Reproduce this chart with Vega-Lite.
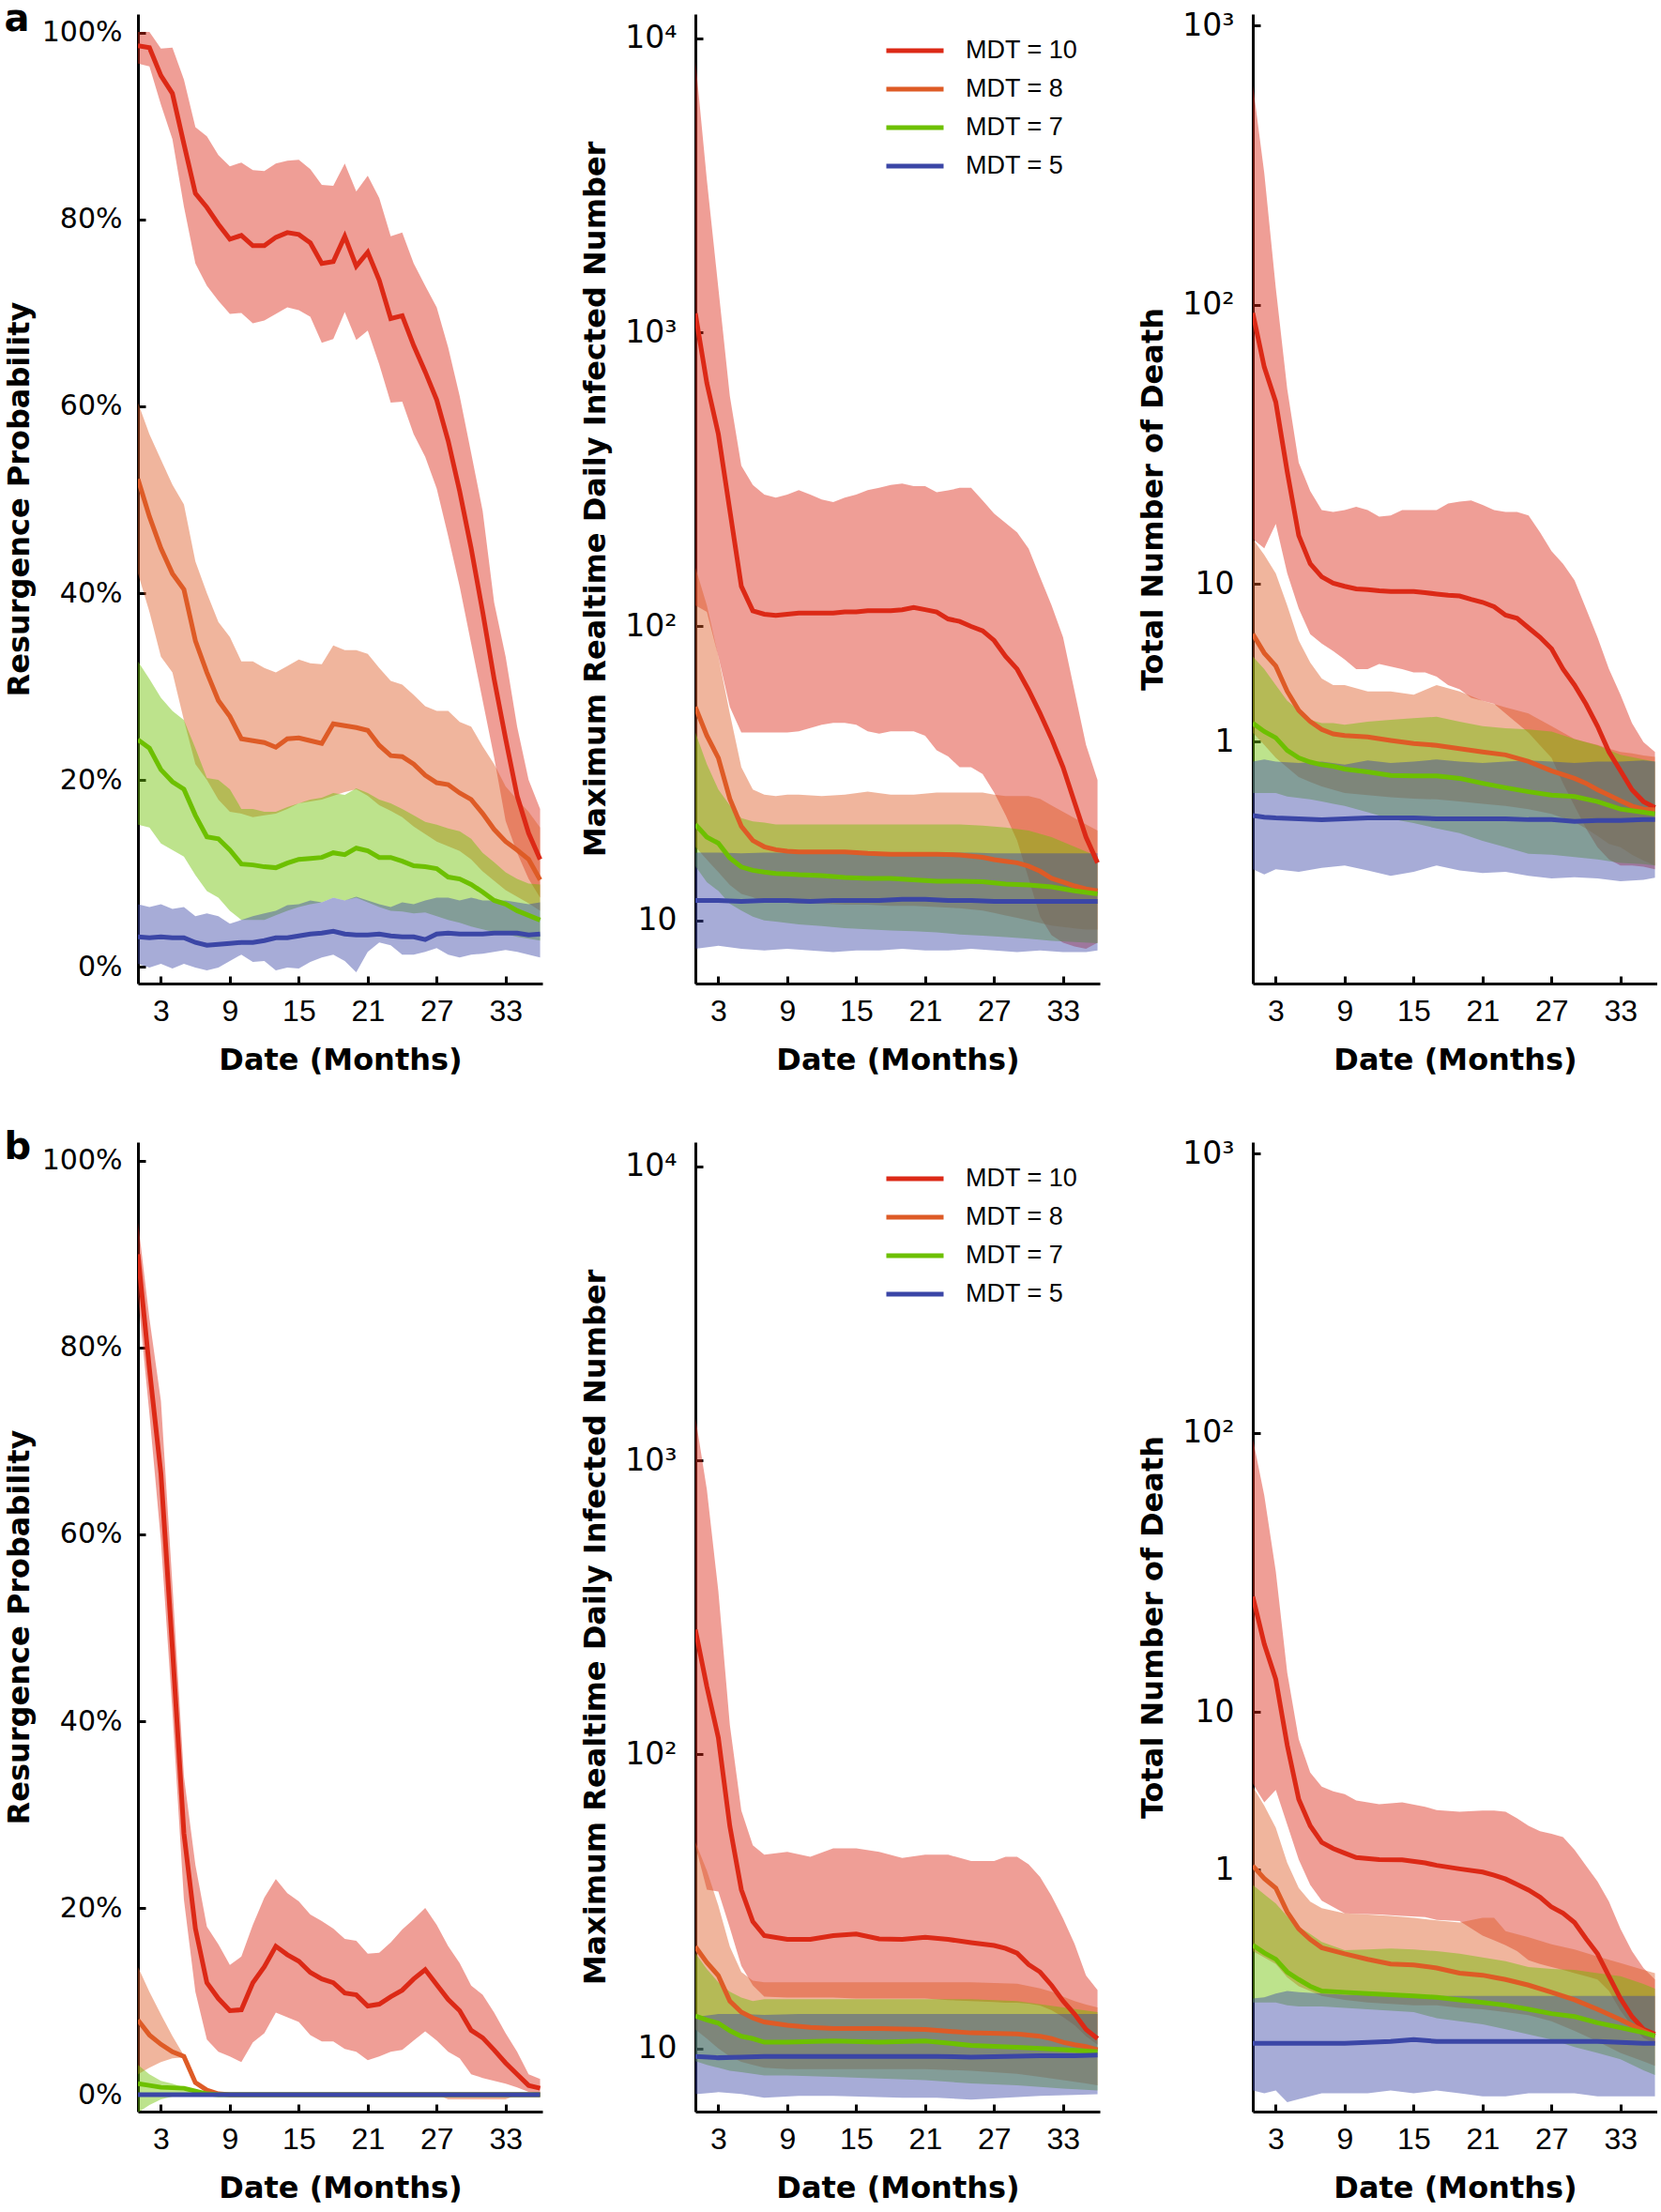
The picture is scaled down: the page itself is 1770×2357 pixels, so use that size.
{
"$schema": "https://vega.github.io/schema/vega-lite/v6.json",
"background": "white",
"padding": {"left": 4, "top": 0, "right": 0, "bottom": 0},
"config": {
  "view": {"stroke": null},
  "axis": {"domainColor": "black", "domainWidth": 3, "tickColor": "black", "tickWidth": 3, "tickSize": -8, "grid": false, "labelColor": "black", "titleColor": "black", "titleFont": "DejaVu Sans", "titleFontWeight": "bold", "titleFontSize": 32, "labelFlush": false, "labelOverlap": false},
  "axisX": {"labelFont": "Liberation Sans", "labelFontSize": 32, "labelPadding": 22.6, "minExtent": 47, "maxExtent": 47, "titlePadding": 19},
  "axisY": {"labelFont": "DejaVu Sans", "labelFontSize": 30},
  "title": {"anchor": "start", "frame": "bounds", "font": "DejaVu Sans", "fontWeight": "bold", "fontSize": 40, "baseline": "alphabetic", "offset": 0, "dy": 29.5, "color": "black"}
},
"datasets": {"d": [
{"p":"a1","s":"10","m":1,"y":98.6,"lo":96.7,"hi":100.1},{"p":"a1","s":"10","m":2,"y":98.4,"lo":96.4,"hi":100.1},{"p":"a1","s":"10","m":3,"y":95.4,"lo":92.3,"hi":98.3},{"p":"a1","s":"10","m":4,"y":93.5,"lo":88.6,"hi":98.4},{"p":"a1","s":"10","m":5,"y":88.1,"lo":81.4,"hi":95.0},{"p":"a1","s":"10","m":6,"y":82.8,"lo":75.3,"hi":89.9},{"p":"a1","s":"10","m":7,"y":81.3,"lo":72.9,"hi":88.9},{"p":"a1","s":"10","m":8,"y":79.5,"lo":71.3,"hi":86.9},{"p":"a1","s":"10","m":9,"y":77.9,"lo":69.9,"hi":85.7},{"p":"a1","s":"10","m":10,"y":78.3,"lo":70.0,"hi":86.1},{"p":"a1","s":"10","m":11,"y":77.2,"lo":68.9,"hi":85.3},{"p":"a1","s":"10","m":12,"y":77.2,"lo":69.2,"hi":85.2},{"p":"a1","s":"10","m":13,"y":78.1,"lo":69.9,"hi":86.0},{"p":"a1","s":"10","m":14,"y":78.6,"lo":70.6,"hi":86.3},{"p":"a1","s":"10","m":15,"y":78.4,"lo":70.3,"hi":86.4},{"p":"a1","s":"10","m":16,"y":77.5,"lo":69.6,"hi":85.4},{"p":"a1","s":"10","m":17,"y":75.3,"lo":66.8,"hi":83.7},{"p":"a1","s":"10","m":18,"y":75.5,"lo":67.2,"hi":83.6},{"p":"a1","s":"10","m":19,"y":78.2,"lo":70.1,"hi":86.0},{"p":"a1","s":"10","m":20,"y":75.0,"lo":67.1,"hi":83.0},{"p":"a1","s":"10","m":21,"y":76.5,"lo":68.1,"hi":84.7},{"p":"a1","s":"10","m":22,"y":73.5,"lo":64.5,"hi":82.3},{"p":"a1","s":"10","m":23,"y":69.4,"lo":60.4,"hi":78.2},{"p":"a1","s":"10","m":24,"y":69.7,"lo":60.5,"hi":78.6},{"p":"a1","s":"10","m":25,"y":66.5,"lo":57.0,"hi":75.3},{"p":"a1","s":"10","m":26,"y":63.7,"lo":54.6,"hi":72.9},{"p":"a1","s":"10","m":27,"y":60.7,"lo":51.2,"hi":70.6},{"p":"a1","s":"10","m":28,"y":56.3,"lo":46.1,"hi":66.3},{"p":"a1","s":"10","m":29,"y":50.9,"lo":40.7,"hi":61.1},{"p":"a1","s":"10","m":30,"y":44.8,"lo":34.6,"hi":55.0},{"p":"a1","s":"10","m":31,"y":38.0,"lo":28.5,"hi":48.8},{"p":"a1","s":"10","m":32,"y":30.8,"lo":22.4,"hi":39.0},{"p":"a1","s":"10","m":33,"y":24.4,"lo":15.6,"hi":33.2},{"p":"a1","s":"10","m":34,"y":18.3,"lo":12.2,"hi":25.7},{"p":"a1","s":"10","m":35,"y":14.3,"lo":9.4,"hi":20.0},{"p":"a1","s":"10","m":36,"y":11.5,"lo":7.4,"hi":16.9},
{"p":"a1","s":"8","m":1,"y":52.2,"lo":42.1,"hi":60.4},{"p":"a1","s":"8","m":2,"y":48.2,"lo":38.0,"hi":57.0},{"p":"a1","s":"8","m":3,"y":44.8,"lo":33.2,"hi":54.3},{"p":"a1","s":"8","m":4,"y":42.1,"lo":31.5,"hi":51.6},{"p":"a1","s":"8","m":5,"y":40.4,"lo":26.4,"hi":49.5},{"p":"a1","s":"8","m":6,"y":34.9,"lo":21.7,"hi":43.4},{"p":"a1","s":"8","m":7,"y":31.5,"lo":20.0,"hi":40.0},{"p":"a1","s":"8","m":8,"y":28.5,"lo":17.9,"hi":36.9},{"p":"a1","s":"8","m":9,"y":26.8,"lo":16.6,"hi":35.3},{"p":"a1","s":"8","m":10,"y":24.4,"lo":16.4,"hi":32.7},{"p":"a1","s":"8","m":11,"y":24.2,"lo":16.0,"hi":32.7},{"p":"a1","s":"8","m":12,"y":24.0,"lo":16.2,"hi":32.0},{"p":"a1","s":"8","m":13,"y":23.5,"lo":16.4,"hi":31.5},{"p":"a1","s":"8","m":14,"y":24.4,"lo":16.9,"hi":32.2},{"p":"a1","s":"8","m":15,"y":24.5,"lo":17.5,"hi":32.9},{"p":"a1","s":"8","m":16,"y":24.2,"lo":17.7,"hi":32.5},{"p":"a1","s":"8","m":17,"y":23.9,"lo":17.9,"hi":32.4},{"p":"a1","s":"8","m":18,"y":26.0,"lo":18.3,"hi":34.4},{"p":"a1","s":"8","m":19,"y":25.8,"lo":18.7,"hi":33.9},{"p":"a1","s":"8","m":20,"y":25.6,"lo":19.0,"hi":33.9},{"p":"a1","s":"8","m":21,"y":25.3,"lo":18.3,"hi":33.5},{"p":"a1","s":"8","m":22,"y":23.7,"lo":17.3,"hi":32.0},{"p":"a1","s":"8","m":23,"y":22.6,"lo":16.7,"hi":30.6},{"p":"a1","s":"8","m":24,"y":22.5,"lo":16.0,"hi":30.2},{"p":"a1","s":"8","m":25,"y":21.7,"lo":15.0,"hi":29.1},{"p":"a1","s":"8","m":26,"y":20.5,"lo":14.2,"hi":27.9},{"p":"a1","s":"8","m":27,"y":19.7,"lo":13.4,"hi":27.4},{"p":"a1","s":"8","m":28,"y":19.5,"lo":12.9,"hi":27.4},{"p":"a1","s":"8","m":29,"y":18.6,"lo":12.4,"hi":26.2},{"p":"a1","s":"8","m":30,"y":17.9,"lo":11.5,"hi":25.7},{"p":"a1","s":"8","m":31,"y":16.4,"lo":10.2,"hi":23.6},{"p":"a1","s":"8","m":32,"y":14.7,"lo":9.2,"hi":21.7},{"p":"a1","s":"8","m":33,"y":13.4,"lo":8.2,"hi":19.3},{"p":"a1","s":"8","m":34,"y":12.5,"lo":7.5,"hi":17.9},{"p":"a1","s":"8","m":35,"y":11.5,"lo":6.8,"hi":16.6},{"p":"a1","s":"8","m":36,"y":9.3,"lo":6.0,"hi":14.9},
{"p":"a1","s":"7","m":1,"y":24.3,"lo":15.2,"hi":32.7},{"p":"a1","s":"7","m":2,"y":23.4,"lo":14.9,"hi":30.8},{"p":"a1","s":"7","m":3,"y":21.1,"lo":13.2,"hi":28.8},{"p":"a1","s":"7","m":4,"y":19.8,"lo":12.5,"hi":27.4},{"p":"a1","s":"7","m":5,"y":19.0,"lo":11.8,"hi":26.4},{"p":"a1","s":"7","m":6,"y":16.2,"lo":9.8,"hi":23.4},{"p":"a1","s":"7","m":7,"y":13.9,"lo":8.1,"hi":20.2},{"p":"a1","s":"7","m":8,"y":13.7,"lo":7.4,"hi":20.0},{"p":"a1","s":"7","m":9,"y":12.5,"lo":6.0,"hi":19.0},{"p":"a1","s":"7","m":10,"y":11.0,"lo":5.0,"hi":16.9},{"p":"a1","s":"7","m":11,"y":10.9,"lo":5.0,"hi":16.9},{"p":"a1","s":"7","m":12,"y":10.7,"lo":5.0,"hi":16.6},{"p":"a1","s":"7","m":13,"y":10.6,"lo":5.5,"hi":16.6},{"p":"a1","s":"7","m":14,"y":11.1,"lo":6.0,"hi":17.1},{"p":"a1","s":"7","m":15,"y":11.5,"lo":6.4,"hi":17.5},{"p":"a1","s":"7","m":16,"y":11.6,"lo":6.7,"hi":17.9},{"p":"a1","s":"7","m":17,"y":11.7,"lo":6.9,"hi":18.1},{"p":"a1","s":"7","m":18,"y":12.2,"lo":7.4,"hi":18.6},{"p":"a1","s":"7","m":19,"y":12.0,"lo":7.1,"hi":18.4},{"p":"a1","s":"7","m":20,"y":12.7,"lo":7.4,"hi":19.1},{"p":"a1","s":"7","m":21,"y":12.4,"lo":6.9,"hi":18.6},{"p":"a1","s":"7","m":22,"y":11.7,"lo":6.4,"hi":17.9},{"p":"a1","s":"7","m":23,"y":11.7,"lo":6.0,"hi":17.5},{"p":"a1","s":"7","m":24,"y":11.3,"lo":5.9,"hi":16.9},{"p":"a1","s":"7","m":25,"y":10.8,"lo":5.7,"hi":16.2},{"p":"a1","s":"7","m":26,"y":10.7,"lo":5.8,"hi":15.5},{"p":"a1","s":"7","m":27,"y":10.5,"lo":5.4,"hi":15.2},{"p":"a1","s":"7","m":28,"y":9.6,"lo":5.0,"hi":14.8},{"p":"a1","s":"7","m":29,"y":9.4,"lo":4.7,"hi":14.5},{"p":"a1","s":"7","m":30,"y":8.8,"lo":4.3,"hi":13.7},{"p":"a1","s":"7","m":31,"y":8.0,"lo":4.0,"hi":12.2},{"p":"a1","s":"7","m":32,"y":7.1,"lo":3.7,"hi":11.2},{"p":"a1","s":"7","m":33,"y":6.7,"lo":3.5,"hi":10.1},{"p":"a1","s":"7","m":34,"y":6.0,"lo":3.2,"hi":9.4},{"p":"a1","s":"7","m":35,"y":5.5,"lo":3.0,"hi":8.9},{"p":"a1","s":"7","m":36,"y":5.0,"lo":2.8,"hi":8.8},
{"p":"a1","s":"5","m":1,"y":3.2,"lo":0.3,"hi":6.7},{"p":"a1","s":"5","m":2,"y":3.1,"lo":-0.1,"hi":6.4},{"p":"a1","s":"5","m":3,"y":3.2,"lo":0.3,"hi":6.7},{"p":"a1","s":"5","m":4,"y":3.1,"lo":-0.2,"hi":6.2},{"p":"a1","s":"5","m":5,"y":3.1,"lo":0.3,"hi":6.4},{"p":"a1","s":"5","m":6,"y":2.6,"lo":-0.1,"hi":5.4},{"p":"a1","s":"5","m":7,"y":2.3,"lo":-0.4,"hi":5.7},{"p":"a1","s":"5","m":8,"y":2.4,"lo":-0.1,"hi":5.4},{"p":"a1","s":"5","m":9,"y":2.5,"lo":0.6,"hi":4.6},{"p":"a1","s":"5","m":10,"y":2.6,"lo":1.3,"hi":5.0},{"p":"a1","s":"5","m":11,"y":2.6,"lo":0.5,"hi":5.4},{"p":"a1","s":"5","m":12,"y":2.8,"lo":0.6,"hi":5.7},{"p":"a1","s":"5","m":13,"y":3.1,"lo":-0.4,"hi":6.0},{"p":"a1","s":"5","m":14,"y":3.1,"lo":-0.1,"hi":6.6},{"p":"a1","s":"5","m":15,"y":3.3,"lo":-0.2,"hi":6.7},{"p":"a1","s":"5","m":16,"y":3.5,"lo":0.5,"hi":7.1},{"p":"a1","s":"5","m":17,"y":3.6,"lo":1.0,"hi":6.9},{"p":"a1","s":"5","m":18,"y":3.8,"lo":1.3,"hi":7.4},{"p":"a1","s":"5","m":19,"y":3.5,"lo":0.6,"hi":7.1},{"p":"a1","s":"5","m":20,"y":3.4,"lo":-0.6,"hi":7.5},{"p":"a1","s":"5","m":21,"y":3.4,"lo":1.6,"hi":7.1},{"p":"a1","s":"5","m":22,"y":3.5,"lo":2.6,"hi":6.7},{"p":"a1","s":"5","m":23,"y":3.3,"lo":2.3,"hi":6.4},{"p":"a1","s":"5","m":24,"y":3.2,"lo":1.3,"hi":6.9},{"p":"a1","s":"5","m":25,"y":3.2,"lo":1.3,"hi":6.7},{"p":"a1","s":"5","m":26,"y":2.9,"lo":1.6,"hi":7.1},{"p":"a1","s":"5","m":27,"y":3.5,"lo":2.0,"hi":7.4},{"p":"a1","s":"5","m":28,"y":3.6,"lo":1.3,"hi":7.4},{"p":"a1","s":"5","m":29,"y":3.5,"lo":1.0,"hi":7.1},{"p":"a1","s":"5","m":30,"y":3.5,"lo":1.3,"hi":7.4},{"p":"a1","s":"5","m":31,"y":3.5,"lo":1.4,"hi":7.1},{"p":"a1","s":"5","m":32,"y":3.6,"lo":1.6,"hi":7.1},{"p":"a1","s":"5","m":33,"y":3.6,"lo":1.8,"hi":7.1},{"p":"a1","s":"5","m":34,"y":3.6,"lo":1.6,"hi":6.9},{"p":"a1","s":"5","m":35,"y":3.4,"lo":1.3,"hi":6.7},{"p":"a1","s":"5","m":36,"y":3.5,"lo":1.0,"hi":6.9},
{"p":"a2","s":"10","m":1,"y":1161,"lo":118,"hi":8490},{"p":"a2","s":"10","m":2,"y":672,"lo":112,"hi":3300},{"p":"a2","s":"10","m":3,"y":451,"lo":79,"hi":1416},{"p":"a2","s":"10","m":4,"y":248,"lo":53.2,"hi":608},{"p":"a2","s":"10","m":5,"y":137,"lo":43.6,"hi":352},{"p":"a2","s":"10","m":6,"y":113,"lo":43.6,"hi":303},{"p":"a2","s":"10","m":7,"y":110,"lo":43.6,"hi":281},{"p":"a2","s":"10","m":8,"y":109,"lo":43.6,"hi":274},{"p":"a2","s":"10","m":9,"y":110,"lo":43.6,"hi":281},{"p":"a2","s":"10","m":10,"y":111,"lo":44,"hi":291},{"p":"a2","s":"10","m":11,"y":111,"lo":45.1,"hi":281},{"p":"a2","s":"10","m":12,"y":111,"lo":46.3,"hi":270},{"p":"a2","s":"10","m":13,"y":111,"lo":47,"hi":265},{"p":"a2","s":"10","m":14,"y":112,"lo":47,"hi":274},{"p":"a2","s":"10","m":15,"y":112,"lo":46.3,"hi":281},{"p":"a2","s":"10","m":16,"y":113,"lo":44,"hi":291},{"p":"a2","s":"10","m":17,"y":113,"lo":43.2,"hi":296},{"p":"a2","s":"10","m":18,"y":113,"lo":44,"hi":303},{"p":"a2","s":"10","m":19,"y":114,"lo":44,"hi":306},{"p":"a2","s":"10","m":20,"y":116,"lo":44,"hi":300},{"p":"a2","s":"10","m":21,"y":114,"lo":42.5,"hi":300},{"p":"a2","s":"10","m":22,"y":112,"lo":37.9,"hi":286},{"p":"a2","s":"10","m":23,"y":106,"lo":36.1,"hi":290},{"p":"a2","s":"10","m":24,"y":104,"lo":33.2,"hi":296},{"p":"a2","s":"10","m":25,"y":100,"lo":33.2,"hi":296},{"p":"a2","s":"10","m":26,"y":96.6,"lo":31.5,"hi":268},{"p":"a2","s":"10","m":27,"y":89.6,"lo":27.2,"hi":242},{"p":"a2","s":"10","m":28,"y":79.1,"lo":22.8,"hi":225},{"p":"a2","s":"10","m":29,"y":71.6,"lo":18.7,"hi":209},{"p":"a2","s":"10","m":30,"y":60.8,"lo":13.9,"hi":184},{"p":"a2","s":"10","m":31,"y":50.6,"lo":10.3,"hi":147},{"p":"a2","s":"10","m":32,"y":41.5,"lo":8.9,"hi":118},{"p":"a2","s":"10","m":33,"y":33.2,"lo":8.4,"hi":91.9},{"p":"a2","s":"10","m":34,"y":25.2,"lo":8.15,"hi":60.2},{"p":"a2","s":"10","m":35,"y":19.2,"lo":8.0,"hi":39.5},{"p":"a2","s":"10","m":36,"y":15.7,"lo":8.4,"hi":30.0},
{"p":"a2","s":"8","m":1,"y":53.2,"lo":17.8,"hi":159},{"p":"a2","s":"8","m":2,"y":42.5,"lo":16.1,"hi":118},{"p":"a2","s":"8","m":3,"y":35.7,"lo":14.6,"hi":79},{"p":"a2","s":"8","m":4,"y":25.9,"lo":13.2,"hi":50.6},{"p":"a2","s":"8","m":5,"y":20.9,"lo":12.3,"hi":33.2},{"p":"a2","s":"8","m":6,"y":18.7,"lo":12.0,"hi":27.9},{"p":"a2","s":"8","m":7,"y":17.8,"lo":11.5,"hi":26.8},{"p":"a2","s":"8","m":8,"y":17.4,"lo":11.5,"hi":26.5},{"p":"a2","s":"8","m":9,"y":17.2,"lo":11.5,"hi":26.8},{"p":"a2","s":"8","m":10,"y":17.1,"lo":11.4,"hi":26.8},{"p":"a2","s":"8","m":12,"y":17.1,"lo":11.4,"hi":26.5},{"p":"a2","s":"8","m":14,"y":17.1,"lo":11.3,"hi":26.8},{"p":"a2","s":"8","m":16,"y":16.9,"lo":11.3,"hi":27.4},{"p":"a2","s":"8","m":18,"y":16.8,"lo":11.2,"hi":26.8},{"p":"a2","s":"8","m":20,"y":16.8,"lo":11.2,"hi":26.8},{"p":"a2","s":"8","m":22,"y":16.8,"lo":11.1,"hi":27.2},{"p":"a2","s":"8","m":24,"y":16.7,"lo":11.0,"hi":27.2},{"p":"a2","s":"8","m":26,"y":16.4,"lo":10.8,"hi":27.2},{"p":"a2","s":"8","m":27,"y":16.1,"lo":10.6,"hi":26.8},{"p":"a2","s":"8","m":28,"y":15.9,"lo":10.4,"hi":26.5},{"p":"a2","s":"8","m":29,"y":15.7,"lo":10.2,"hi":26.5},{"p":"a2","s":"8","m":30,"y":15.3,"lo":10.0,"hi":26.5},{"p":"a2","s":"8","m":31,"y":14.7,"lo":9.8,"hi":25.9},{"p":"a2","s":"8","m":32,"y":13.9,"lo":9.6,"hi":24.6},{"p":"a2","s":"8","m":33,"y":13.5,"lo":9.5,"hi":23.4},{"p":"a2","s":"8","m":34,"y":13.1,"lo":9.4,"hi":22.3},{"p":"a2","s":"8","m":35,"y":12.8,"lo":9.3,"hi":21.2},{"p":"a2","s":"8","m":36,"y":12.6,"lo":9.3,"hi":20.2},
{"p":"a2","s":"7","m":1,"y":21.2,"lo":15.3,"hi":43.6},{"p":"a2","s":"7","m":2,"y":19.2,"lo":13.5,"hi":34.0},{"p":"a2","s":"7","m":3,"y":18.3,"lo":12.6,"hi":27.9},{"p":"a2","s":"7","m":4,"y":16.3,"lo":11.4,"hi":24.6},{"p":"a2","s":"7","m":5,"y":15.2,"lo":10.8,"hi":22.3},{"p":"a2","s":"7","m":6,"y":14.8,"lo":10.3,"hi":21.7},{"p":"a2","s":"7","m":7,"y":14.6,"lo":10.0,"hi":21.5},{"p":"a2","s":"7","m":8,"y":14.45,"lo":9.9,"hi":21.2},{"p":"a2","s":"7","m":9,"y":14.4,"lo":9.8,"hi":21.2},{"p":"a2","s":"7","m":10,"y":14.3,"lo":9.7,"hi":21.2},{"p":"a2","s":"7","m":12,"y":14.2,"lo":9.56,"hi":21.2},{"p":"a2","s":"7","m":14,"y":14.0,"lo":9.42,"hi":21.2},{"p":"a2","s":"7","m":16,"y":13.9,"lo":9.33,"hi":21.2},{"p":"a2","s":"7","m":18,"y":13.9,"lo":9.24,"hi":21.2},{"p":"a2","s":"7","m":20,"y":13.75,"lo":9.19,"hi":21.2},{"p":"a2","s":"7","m":22,"y":13.6,"lo":9.1,"hi":21.2},{"p":"a2","s":"7","m":24,"y":13.6,"lo":8.96,"hi":21.2},{"p":"a2","s":"7","m":26,"y":13.55,"lo":8.87,"hi":21.0},{"p":"a2","s":"7","m":28,"y":13.3,"lo":8.78,"hi":20.7},{"p":"a2","s":"7","m":30,"y":13.2,"lo":8.66,"hi":20.2},{"p":"a2","s":"7","m":32,"y":13.0,"lo":8.53,"hi":19.2},{"p":"a2","s":"7","m":34,"y":12.6,"lo":8.45,"hi":17.8},{"p":"a2","s":"7","m":36,"y":12.3,"lo":8.36,"hi":16.5},
{"p":"a2","s":"5","m":1,"y":11.7,"lo":8.0,"hi":17.0},{"p":"a2","s":"5","m":3,"y":11.7,"lo":8.2,"hi":17.0},{"p":"a2","s":"5","m":5,"y":11.6,"lo":8.0,"hi":16.9},{"p":"a2","s":"5","m":7,"y":11.7,"lo":7.9,"hi":17.0},{"p":"a2","s":"5","m":9,"y":11.7,"lo":8.0,"hi":17.0},{"p":"a2","s":"5","m":11,"y":11.6,"lo":7.9,"hi":16.9},{"p":"a2","s":"5","m":13,"y":11.7,"lo":7.8,"hi":17.0},{"p":"a2","s":"5","m":15,"y":11.7,"lo":7.9,"hi":16.9},{"p":"a2","s":"5","m":17,"y":11.7,"lo":7.9,"hi":17.0},{"p":"a2","s":"5","m":19,"y":11.8,"lo":8.0,"hi":17.0},{"p":"a2","s":"5","m":21,"y":11.8,"lo":7.9,"hi":16.9},{"p":"a2","s":"5","m":23,"y":11.7,"lo":7.9,"hi":17.0},{"p":"a2","s":"5","m":25,"y":11.7,"lo":8.0,"hi":17.0},{"p":"a2","s":"5","m":27,"y":11.6,"lo":7.9,"hi":16.9},{"p":"a2","s":"5","m":29,"y":11.6,"lo":7.8,"hi":16.9},{"p":"a2","s":"5","m":31,"y":11.6,"lo":7.9,"hi":16.9},{"p":"a2","s":"5","m":33,"y":11.6,"lo":7.8,"hi":16.9},{"p":"a2","s":"5","m":35,"y":11.6,"lo":7.8,"hi":16.9},{"p":"a2","s":"5","m":36,"y":11.6,"lo":7.9,"hi":16.9},
{"p":"a3","s":"10","m":1,"y":93.4,"lo":14.5,"hi":617},{"p":"a3","s":"10","m":2,"y":59.8,"lo":13.4,"hi":296},{"p":"a3","s":"10","m":3,"y":44.8,"lo":16.4,"hi":115},{"p":"a3","s":"10","m":4,"y":25.2,"lo":10.9,"hi":49.8},{"p":"a3","s":"10","m":5,"y":14.9,"lo":8.15,"hi":27.2},{"p":"a3","s":"10","m":6,"y":11.8,"lo":6.61,"hi":21.5},{"p":"a3","s":"10","m":7,"y":10.6,"lo":6.11,"hi":18.4},{"p":"a3","s":"10","m":8,"y":10.05,"lo":5.74,"hi":18.1},{"p":"a3","s":"10","m":9,"y":9.8,"lo":5.36,"hi":18.4},{"p":"a3","s":"10","m":10,"y":9.6,"lo":4.95,"hi":18.9},{"p":"a3","s":"10","m":11,"y":9.54,"lo":4.95,"hi":18.4},{"p":"a3","s":"10","m":12,"y":9.45,"lo":5.16,"hi":17.4},{"p":"a3","s":"10","m":13,"y":9.39,"lo":5.06,"hi":17.6},{"p":"a3","s":"10","m":14,"y":9.39,"lo":4.95,"hi":18.4},{"p":"a3","s":"10","m":15,"y":9.39,"lo":4.82,"hi":18.4},{"p":"a3","s":"10","m":16,"y":9.3,"lo":4.82,"hi":18.4},{"p":"a3","s":"10","m":17,"y":9.2,"lo":4.65,"hi":18.4},{"p":"a3","s":"10","m":18,"y":9.1,"lo":4.34,"hi":19.4},{"p":"a3","s":"10","m":19,"y":9.05,"lo":4.19,"hi":19.7},{"p":"a3","s":"10","m":20,"y":8.8,"lo":3.91,"hi":19.9},{"p":"a3","s":"10","m":21,"y":8.59,"lo":3.81,"hi":19.2},{"p":"a3","s":"10","m":22,"y":8.28,"lo":3.72,"hi":18.4},{"p":"a3","s":"10","m":23,"y":7.73,"lo":3.43,"hi":18.1},{"p":"a3","s":"10","m":24,"y":7.53,"lo":3.17,"hi":18.1},{"p":"a3","s":"10","m":25,"y":6.96,"lo":2.93,"hi":17.6},{"p":"a3","s":"10","m":26,"y":6.44,"lo":2.64,"hi":15.3},{"p":"a3","s":"10","m":27,"y":5.86,"lo":2.38,"hi":13.1},{"p":"a3","s":"10","m":28,"y":4.95,"lo":1.93,"hi":11.8},{"p":"a3","s":"10","m":29,"y":4.34,"lo":1.6,"hi":10.3},{"p":"a3","s":"10","m":30,"y":3.71,"lo":1.33,"hi":8.15},{"p":"a3","s":"10","m":31,"y":3.09,"lo":1.14,"hi":6.44},{"p":"a3","s":"10","m":32,"y":2.5,"lo":1.03,"hi":4.95},{"p":"a3","s":"10","m":33,"y":2.14,"lo":0.98,"hi":4.01},{"p":"a3","s":"10","m":34,"y":1.83,"lo":0.98,"hi":3.17},{"p":"a3","s":"10","m":35,"y":1.66,"lo":0.97,"hi":2.71},{"p":"a3","s":"10","m":36,"y":1.58,"lo":0.95,"hi":2.5},
{"p":"a3","s":"8","m":1,"y":6.61,"lo":2.93,"hi":14.5},{"p":"a3","s":"8","m":2,"y":5.65,"lo":2.65,"hi":12.7},{"p":"a3","s":"8","m":3,"y":5.08,"lo":2.38,"hi":10.9},{"p":"a3","s":"8","m":4,"y":4.12,"lo":2.2,"hi":8.37},{"p":"a3","s":"8","m":5,"y":3.52,"lo":2.03,"hi":6.27},{"p":"a3","s":"8","m":6,"y":3.21,"lo":1.95,"hi":5.22},{"p":"a3","s":"8","m":7,"y":3.01,"lo":1.88,"hi":4.58},{"p":"a3","s":"8","m":8,"y":2.9,"lo":1.83,"hi":4.34},{"p":"a3","s":"8","m":9,"y":2.86,"lo":1.78,"hi":4.34},{"p":"a3","s":"8","m":11,"y":2.83,"lo":1.75,"hi":4.12},{"p":"a3","s":"8","m":13,"y":2.75,"lo":1.72,"hi":4.12},{"p":"a3","s":"8","m":15,"y":2.68,"lo":1.7,"hi":4.01},{"p":"a3","s":"8","m":17,"y":2.64,"lo":1.69,"hi":4.34},{"p":"a3","s":"8","m":19,"y":2.57,"lo":1.66,"hi":4.12},{"p":"a3","s":"8","m":21,"y":2.5,"lo":1.63,"hi":3.81},{"p":"a3","s":"8","m":23,"y":2.44,"lo":1.6,"hi":3.61},{"p":"a3","s":"8","m":25,"y":2.31,"lo":1.56,"hi":3.43},{"p":"a3","s":"8","m":27,"y":2.14,"lo":1.5,"hi":3.09},{"p":"a3","s":"8","m":29,"y":2.01,"lo":1.4,"hi":2.78},{"p":"a3","s":"8","m":30,"y":1.93,"lo":1.33,"hi":2.71},{"p":"a3","s":"8","m":31,"y":1.83,"lo":1.25,"hi":2.65},{"p":"a3","s":"8","m":32,"y":1.75,"lo":1.17,"hi":2.57},{"p":"a3","s":"8","m":33,"y":1.67,"lo":1.14,"hi":2.5},{"p":"a3","s":"8","m":34,"y":1.6,"lo":1.07,"hi":2.47},{"p":"a3","s":"8","m":35,"y":1.56,"lo":1.02,"hi":2.43},{"p":"a3","s":"8","m":36,"y":1.55,"lo":0.98,"hi":2.4},
{"p":"a3","s":"7","m":1,"y":3.17,"lo":1.78,"hi":5.49},{"p":"a3","s":"7","m":2,"y":2.96,"lo":1.78,"hi":4.95},{"p":"a3","s":"7","m":3,"y":2.81,"lo":1.78,"hi":4.34},{"p":"a3","s":"7","m":4,"y":2.53,"lo":1.73,"hi":3.81},{"p":"a3","s":"7","m":5,"y":2.38,"lo":1.71,"hi":3.52},{"p":"a3","s":"7","m":6,"y":2.3,"lo":1.69,"hi":3.26},{"p":"a3","s":"7","m":7,"y":2.25,"lo":1.66,"hi":3.17},{"p":"a3","s":"7","m":8,"y":2.22,"lo":1.63,"hi":3.17},{"p":"a3","s":"7","m":9,"y":2.17,"lo":1.6,"hi":3.13},{"p":"a3","s":"7","m":11,"y":2.12,"lo":1.52,"hi":3.21},{"p":"a3","s":"7","m":13,"y":2.06,"lo":1.44,"hi":3.26},{"p":"a3","s":"7","m":15,"y":2.05,"lo":1.39,"hi":3.3},{"p":"a3","s":"7","m":17,"y":2.05,"lo":1.33,"hi":3.34},{"p":"a3","s":"7","m":19,"y":2.01,"lo":1.28,"hi":3.21},{"p":"a3","s":"7","m":21,"y":1.93,"lo":1.2,"hi":3.09},{"p":"a3","s":"7","m":23,"y":1.86,"lo":1.14,"hi":3.04},{"p":"a3","s":"7","m":25,"y":1.8,"lo":1.08,"hi":3.01},{"p":"a3","s":"7","m":27,"y":1.75,"lo":1.07,"hi":2.96},{"p":"a3","s":"7","m":29,"y":1.73,"lo":1.05,"hi":2.78},{"p":"a3","s":"7","m":31,"y":1.66,"lo":1.03,"hi":2.64},{"p":"a3","s":"7","m":33,"y":1.56,"lo":1.0,"hi":2.44},{"p":"a3","s":"7","m":35,"y":1.52,"lo":0.99,"hi":2.35},{"p":"a3","s":"7","m":36,"y":1.5,"lo":0.98,"hi":2.31},
{"p":"a3","s":"5","m":1,"y":1.48,"lo":0.95,"hi":2.31},{"p":"a3","s":"5","m":2,"y":1.46,"lo":0.91,"hi":2.35},{"p":"a3","s":"5","m":3,"y":1.45,"lo":0.95,"hi":2.31},{"p":"a3","s":"5","m":5,"y":1.44,"lo":0.93,"hi":2.28},{"p":"a3","s":"5","m":7,"y":1.43,"lo":0.96,"hi":2.31},{"p":"a3","s":"5","m":9,"y":1.44,"lo":0.98,"hi":2.25},{"p":"a3","s":"5","m":11,"y":1.45,"lo":0.94,"hi":2.33},{"p":"a3","s":"5","m":13,"y":1.45,"lo":0.9,"hi":2.28},{"p":"a3","s":"5","m":15,"y":1.45,"lo":0.93,"hi":2.31},{"p":"a3","s":"5","m":17,"y":1.44,"lo":0.98,"hi":2.35},{"p":"a3","s":"5","m":19,"y":1.44,"lo":0.94,"hi":2.31},{"p":"a3","s":"5","m":21,"y":1.44,"lo":0.92,"hi":2.28},{"p":"a3","s":"5","m":23,"y":1.44,"lo":0.93,"hi":2.31},{"p":"a3","s":"5","m":25,"y":1.43,"lo":0.9,"hi":2.33},{"p":"a3","s":"5","m":27,"y":1.43,"lo":0.88,"hi":2.31},{"p":"a3","s":"5","m":29,"y":1.41,"lo":0.89,"hi":2.28},{"p":"a3","s":"5","m":31,"y":1.42,"lo":0.88,"hi":2.31},{"p":"a3","s":"5","m":33,"y":1.42,"lo":0.86,"hi":2.31},{"p":"a3","s":"5","m":35,"y":1.43,"lo":0.87,"hi":2.33},{"p":"a3","s":"5","m":36,"y":1.43,"lo":0.885,"hi":2.31},
{"p":"b1","s":"10","m":1,"y":90.0,"lo":85.5,"hi":93.5},{"p":"b1","s":"10","m":2,"y":77.7,"lo":72.9,"hi":83.1},{"p":"b1","s":"10","m":3,"y":66.5,"lo":59.3,"hi":74.3},{"p":"b1","s":"10","m":4,"y":47.8,"lo":41.0,"hi":54.6},{"p":"b1","s":"10","m":5,"y":28.0,"lo":20.9,"hi":34.1},{"p":"b1","s":"10","m":6,"y":17.8,"lo":11.0,"hi":24.6},{"p":"b1","s":"10","m":7,"y":12.0,"lo":5.9,"hi":18.0},{"p":"b1","s":"10","m":8,"y":10.3,"lo":4.6,"hi":16.1},{"p":"b1","s":"10","m":9,"y":9.0,"lo":4.1,"hi":13.9},{"p":"b1","s":"10","m":10,"y":9.1,"lo":3.5,"hi":14.8},{"p":"b1","s":"10","m":11,"y":12.0,"lo":5.6,"hi":18.2},{"p":"b1","s":"10","m":12,"y":13.7,"lo":6.6,"hi":21.1},{"p":"b1","s":"10","m":13,"y":15.9,"lo":8.8,"hi":23.1},{"p":"b1","s":"10","m":14,"y":15.0,"lo":8.3,"hi":21.6},{"p":"b1","s":"10","m":15,"y":14.3,"lo":7.8,"hi":20.7},{"p":"b1","s":"10","m":16,"y":13.1,"lo":6.4,"hi":19.3},{"p":"b1","s":"10","m":17,"y":12.4,"lo":5.7,"hi":18.6},{"p":"b1","s":"10","m":18,"y":12.0,"lo":5.7,"hi":17.8},{"p":"b1","s":"10","m":19,"y":10.9,"lo":4.9,"hi":16.7},{"p":"b1","s":"10","m":20,"y":10.7,"lo":4.6,"hi":16.5},{"p":"b1","s":"10","m":21,"y":9.5,"lo":3.7,"hi":15.1},{"p":"b1","s":"10","m":22,"y":9.7,"lo":4.1,"hi":15.2},{"p":"b1","s":"10","m":23,"y":10.5,"lo":4.6,"hi":16.3},{"p":"b1","s":"10","m":24,"y":11.2,"lo":4.8,"hi":17.7},{"p":"b1","s":"10","m":25,"y":12.4,"lo":5.8,"hi":18.8},{"p":"b1","s":"10","m":26,"y":13.4,"lo":6.8,"hi":20.0},{"p":"b1","s":"10","m":27,"y":11.8,"lo":5.8,"hi":18.2},{"p":"b1","s":"10","m":28,"y":10.2,"lo":4.6,"hi":15.9},{"p":"b1","s":"10","m":29,"y":9.0,"lo":3.9,"hi":14.1},{"p":"b1","s":"10","m":30,"y":6.9,"lo":2.2,"hi":11.7},{"p":"b1","s":"10","m":31,"y":6.1,"lo":1.8,"hi":10.7},{"p":"b1","s":"10","m":32,"y":4.8,"lo":1.5,"hi":8.8},{"p":"b1","s":"10","m":33,"y":3.4,"lo":1.2,"hi":6.6},{"p":"b1","s":"10","m":34,"y":2.2,"lo":0.8,"hi":4.6},{"p":"b1","s":"10","m":35,"y":1.0,"lo":0.3,"hi":2.2},{"p":"b1","s":"10","m":36,"y":0.7,"lo":0.1,"hi":1.7},
{"p":"b1","s":"8","m":1,"y":8.0,"lo":2.2,"hi":13.7},{"p":"b1","s":"8","m":2,"y":6.4,"lo":2.9,"hi":11.0},{"p":"b1","s":"8","m":3,"y":5.4,"lo":3.5,"hi":8.6},{"p":"b1","s":"8","m":4,"y":4.6,"lo":3.9,"hi":6.3},{"p":"b1","s":"8","m":5,"y":4.1,"lo":4.0,"hi":4.2},{"p":"b1","s":"8","m":6,"y":1.3,"lo":1.2,"hi":1.5},{"p":"b1","s":"8","m":7,"y":0.5,"lo":0.4,"hi":0.5},{"p":"b1","s":"8","m":8,"y":0.1,"lo":0,"hi":0.1},{"p":"b1","s":"8","m":9,"y":0,"lo":0,"hi":0},{"p":"b1","s":"8","m":27,"y":0,"lo":0,"hi":0},{"p":"b1","s":"8","m":28,"y":0,"lo":-0.5,"hi":0.1},{"p":"b1","s":"8","m":33,"y":0,"lo":-0.5,"hi":0.1},{"p":"b1","s":"8","m":34,"y":0,"lo":0,"hi":0},{"p":"b1","s":"8","m":36,"y":0,"lo":0,"hi":0},
{"p":"b1","s":"7","m":1,"y":1.2,"lo":-1.9,"hi":3.2},{"p":"b1","s":"7","m":2,"y":1.0,"lo":-1.1,"hi":2.2},{"p":"b1","s":"7","m":3,"y":0.8,"lo":-0.5,"hi":1.5},{"p":"b1","s":"7","m":4,"y":0.75,"lo":-0.2,"hi":1.2},{"p":"b1","s":"7","m":5,"y":0.7,"lo":0,"hi":0.8},{"p":"b1","s":"7","m":6,"y":0.4,"lo":0,"hi":0.4},{"p":"b1","s":"7","m":7,"y":0.1,"lo":0,"hi":0.1},{"p":"b1","s":"7","m":8,"y":0,"lo":0,"hi":0},{"p":"b1","s":"7","m":36,"y":0,"lo":0,"hi":0},
{"p":"b1","s":"5","m":1,"y":0,"lo":0,"hi":0},{"p":"b1","s":"5","m":36,"y":0,"lo":0,"hi":0},
{"p":"b2","s":"10","m":1,"y":266,"lo":49.1,"hi":1408},{"p":"b2","s":"10","m":2,"y":170,"lo":34.7,"hi":796},{"p":"b2","s":"10","m":3,"y":114,"lo":34.2,"hi":359},{"p":"b2","s":"10","m":4,"y":57,"lo":25.7,"hi":126},{"p":"b2","s":"10","m":5,"y":34.7,"lo":19.1,"hi":64.5},{"p":"b2","s":"10","m":6,"y":27.0,"lo":16.4,"hi":49.1},{"p":"b2","s":"10","m":7,"y":24.2,"lo":15.0,"hi":45.6},{"p":"b2","s":"10","m":9,"y":23.5,"lo":14.9,"hi":46.6},{"p":"b2","s":"10","m":11,"y":23.5,"lo":14.9,"hi":44.9},{"p":"b2","s":"10","m":13,"y":24.2,"lo":14.9,"hi":47.9},{"p":"b2","s":"10","m":15,"y":24.5,"lo":14.8,"hi":47.9},{"p":"b2","s":"10","m":17,"y":23.6,"lo":14.8,"hi":46.6},{"p":"b2","s":"10","m":19,"y":23.5,"lo":14.8,"hi":44.5},{"p":"b2","s":"10","m":21,"y":23.9,"lo":14.8,"hi":45.6},{"p":"b2","s":"10","m":23,"y":23.5,"lo":14.6,"hi":45.6},{"p":"b2","s":"10","m":25,"y":22.9,"lo":14.5,"hi":43.4},{"p":"b2","s":"10","m":27,"y":22.4,"lo":14.4,"hi":43.4},{"p":"b2","s":"10","m":28,"y":21.9,"lo":14.3,"hi":44.9},{"p":"b2","s":"10","m":29,"y":21.1,"lo":14.3,"hi":44.9},{"p":"b2","s":"10","m":30,"y":19.3,"lo":14.2,"hi":42.3},{"p":"b2","s":"10","m":31,"y":18.2,"lo":14.0,"hi":38.3},{"p":"b2","s":"10","m":32,"y":16.4,"lo":13.5,"hi":33.0},{"p":"b2","s":"10","m":33,"y":14.5,"lo":12.8,"hi":27.7},{"p":"b2","s":"10","m":34,"y":13.1,"lo":12.0,"hi":22.7},{"p":"b2","s":"10","m":35,"y":11.6,"lo":11.0,"hi":17.7},{"p":"b2","s":"10","m":36,"y":10.8,"lo":10.3,"hi":15.8},
{"p":"b2","s":"8","m":1,"y":22.2,"lo":11.6,"hi":50.4},{"p":"b2","s":"8","m":2,"y":19.6,"lo":10.8,"hi":40.3},{"p":"b2","s":"8","m":3,"y":17.7,"lo":10.0,"hi":30.6},{"p":"b2","s":"8","m":4,"y":14.5,"lo":9.4,"hi":22.2},{"p":"b2","s":"8","m":5,"y":13.3,"lo":9.0,"hi":18.2},{"p":"b2","s":"8","m":6,"y":12.7,"lo":8.8,"hi":17.0},{"p":"b2","s":"8","m":7,"y":12.3,"lo":8.6,"hi":16.8},{"p":"b2","s":"8","m":9,"y":12.0,"lo":8.5,"hi":16.8},{"p":"b2","s":"8","m":11,"y":11.8,"lo":8.5,"hi":16.8},{"p":"b2","s":"8","m":13,"y":11.7,"lo":8.5,"hi":16.8},{"p":"b2","s":"8","m":17,"y":11.7,"lo":8.5,"hi":16.8},{"p":"b2","s":"8","m":21,"y":11.6,"lo":8.5,"hi":16.8},{"p":"b2","s":"8","m":25,"y":11.3,"lo":8.4,"hi":16.8},{"p":"b2","s":"8","m":29,"y":11.2,"lo":8.2,"hi":16.6},{"p":"b2","s":"8","m":31,"y":11.0,"lo":8.0,"hi":16.0},{"p":"b2","s":"8","m":32,"y":10.8,"lo":7.9,"hi":15.6},{"p":"b2","s":"8","m":33,"y":10.5,"lo":7.8,"hi":15.0},{"p":"b2","s":"8","m":34,"y":10.3,"lo":7.7,"hi":14.5},{"p":"b2","s":"8","m":35,"y":10.15,"lo":7.6,"hi":14.1},{"p":"b2","s":"8","m":36,"y":9.9,"lo":7.5,"hi":13.8},
{"p":"b2","s":"7","m":1,"y":12.9,"lo":9.06,"hi":21.1},{"p":"b2","s":"7","m":2,"y":12.5,"lo":8.8,"hi":18.6},{"p":"b2","s":"7","m":3,"y":12.2,"lo":8.6,"hi":16.8},{"p":"b2","s":"7","m":4,"y":11.5,"lo":8.4,"hi":15.6},{"p":"b2","s":"7","m":5,"y":11.0,"lo":8.3,"hi":14.9},{"p":"b2","s":"7","m":6,"y":10.8,"lo":8.2,"hi":14.5},{"p":"b2","s":"7","m":7,"y":10.5,"lo":8.1,"hi":14.7},{"p":"b2","s":"7","m":9,"y":10.5,"lo":8.1,"hi":14.7},{"p":"b2","s":"7","m":13,"y":10.6,"lo":8.0,"hi":14.7},{"p":"b2","s":"7","m":17,"y":10.5,"lo":7.9,"hi":14.7},{"p":"b2","s":"7","m":21,"y":10.6,"lo":7.8,"hi":14.7},{"p":"b2","s":"7","m":25,"y":10.25,"lo":7.6,"hi":14.7},{"p":"b2","s":"7","m":29,"y":10.1,"lo":7.5,"hi":14.5},{"p":"b2","s":"7","m":33,"y":9.9,"lo":7.3,"hi":13.8},{"p":"b2","s":"7","m":36,"y":9.75,"lo":7.2,"hi":13.3},
{"p":"b2","s":"5","m":1,"y":9.4,"lo":6.99,"hi":12.8},{"p":"b2","s":"5","m":3,"y":9.3,"lo":7.1,"hi":13.1},{"p":"b2","s":"5","m":5,"y":9.35,"lo":7.0,"hi":13.1},{"p":"b2","s":"5","m":7,"y":9.4,"lo":6.8,"hi":13.0},{"p":"b2","s":"5","m":10,"y":9.4,"lo":6.9,"hi":13.1},{"p":"b2","s":"5","m":13,"y":9.4,"lo":6.9,"hi":13.1},{"p":"b2","s":"5","m":16,"y":9.4,"lo":6.85,"hi":13.1},{"p":"b2","s":"5","m":19,"y":9.4,"lo":6.8,"hi":13.1},{"p":"b2","s":"5","m":22,"y":9.4,"lo":6.8,"hi":13.1},{"p":"b2","s":"5","m":25,"y":9.35,"lo":6.7,"hi":13.1},{"p":"b2","s":"5","m":28,"y":9.4,"lo":6.8,"hi":13.1},{"p":"b2","s":"5","m":31,"y":9.45,"lo":6.9,"hi":13.1},{"p":"b2","s":"5","m":34,"y":9.45,"lo":6.95,"hi":13.1},{"p":"b2","s":"5","m":36,"y":9.5,"lo":6.99,"hi":13.1},
{"p":"b3","s":"10","m":1,"y":25.9,"lo":5.54,"hi":95.4},{"p":"b3","s":"10","m":2,"y":17.5,"lo":4.74,"hi":59.6},{"p":"b3","s":"10","m":3,"y":13.1,"lo":5.26,"hi":31.9},{"p":"b3","s":"10","m":4,"y":7.59,"lo":3.95,"hi":13.8},{"p":"b3","s":"10","m":5,"y":4.86,"lo":2.96,"hi":7.99},{"p":"b3","s":"10","m":6,"y":3.91,"lo":2.4,"hi":6.06},{"p":"b3","s":"10","m":7,"y":3.41,"lo":2.11,"hi":5.4},{"p":"b3","s":"10","m":8,"y":3.24,"lo":2.0,"hi":5.19},{"p":"b3","s":"10","m":9,"y":3.12,"lo":1.9,"hi":5.08},{"p":"b3","s":"10","m":10,"y":3.01,"lo":1.89,"hi":4.82},{"p":"b3","s":"10","m":12,"y":2.96,"lo":1.88,"hi":4.67},{"p":"b3","s":"10","m":14,"y":2.95,"lo":1.86,"hi":4.74},{"p":"b3","s":"10","m":16,"y":2.88,"lo":1.84,"hi":4.57},{"p":"b3","s":"10","m":17,"y":2.82,"lo":1.8,"hi":4.45},{"p":"b3","s":"10","m":19,"y":2.74,"lo":1.78,"hi":4.39},{"p":"b3","s":"10","m":21,"y":2.67,"lo":1.58,"hi":4.43},{"p":"b3","s":"10","m":22,"y":2.6,"lo":1.52,"hi":4.43},{"p":"b3","s":"10","m":23,"y":2.52,"lo":1.46,"hi":4.39},{"p":"b3","s":"10","m":24,"y":2.41,"lo":1.39,"hi":4.16},{"p":"b3","s":"10","m":25,"y":2.3,"lo":1.29,"hi":3.91},{"p":"b3","s":"10","m":26,"y":2.17,"lo":1.25,"hi":3.74},{"p":"b3","s":"10","m":27,"y":2.0,"lo":1.22,"hi":3.66},{"p":"b3","s":"10","m":28,"y":1.9,"lo":1.19,"hi":3.56},{"p":"b3","s":"10","m":29,"y":1.76,"lo":1.16,"hi":3.21},{"p":"b3","s":"10","m":30,"y":1.54,"lo":1.13,"hi":2.81},{"p":"b3","s":"10","m":31,"y":1.36,"lo":1.1,"hi":2.47},{"p":"b3","s":"10","m":32,"y":1.13,"lo":1.0,"hi":2.09},{"p":"b3","s":"10","m":33,"y":0.94,"lo":0.85,"hi":1.67},{"p":"b3","s":"10","m":34,"y":0.81,"lo":0.75,"hi":1.39},{"p":"b3","s":"10","m":35,"y":0.73,"lo":0.68,"hi":1.21},{"p":"b3","s":"10","m":36,"y":0.7,"lo":0.65,"hi":1.1},
{"p":"b3","s":"8","m":1,"y":2.81,"lo":1.39,"hi":5.4},{"p":"b3","s":"8","m":2,"y":2.53,"lo":1.32,"hi":4.62},{"p":"b3","s":"8","m":3,"y":2.34,"lo":1.25,"hi":3.85},{"p":"b3","s":"8","m":4,"y":1.92,"lo":1.12,"hi":2.88},{"p":"b3","s":"8","m":5,"y":1.67,"lo":1.04,"hi":2.34},{"p":"b3","s":"8","m":6,"y":1.53,"lo":1.0,"hi":2.09},{"p":"b3","s":"8","m":7,"y":1.43,"lo":0.96,"hi":1.98},{"p":"b3","s":"8","m":9,"y":1.36,"lo":0.93,"hi":1.9},{"p":"b3","s":"8","m":11,"y":1.3,"lo":0.91,"hi":1.88},{"p":"b3","s":"8","m":13,"y":1.25,"lo":0.9,"hi":1.86},{"p":"b3","s":"8","m":15,"y":1.24,"lo":0.89,"hi":1.83},{"p":"b3","s":"8","m":17,"y":1.21,"lo":0.89,"hi":1.79},{"p":"b3","s":"8","m":19,"y":1.16,"lo":0.87,"hi":1.76},{"p":"b3","s":"8","m":21,"y":1.14,"lo":0.86,"hi":1.83},{"p":"b3","s":"8","m":22,"y":1.12,"lo":0.85,"hi":1.83},{"p":"b3","s":"8","m":23,"y":1.1,"lo":0.84,"hi":1.64},{"p":"b3","s":"8","m":25,"y":1.05,"lo":0.82,"hi":1.56},{"p":"b3","s":"8","m":27,"y":0.99,"lo":0.78,"hi":1.47},{"p":"b3","s":"8","m":29,"y":0.93,"lo":0.72,"hi":1.41},{"p":"b3","s":"8","m":31,"y":0.86,"lo":0.66,"hi":1.33},{"p":"b3","s":"8","m":33,"y":0.79,"lo":0.6,"hi":1.26},{"p":"b3","s":"8","m":35,"y":0.72,"lo":0.56,"hi":1.19},{"p":"b3","s":"8","m":36,"y":0.69,"lo":0.54,"hi":1.16},
{"p":"b3","s":"7","m":1,"y":1.46,"lo":0.91,"hi":2.4},{"p":"b3","s":"7","m":2,"y":1.37,"lo":0.91,"hi":2.22},{"p":"b3","s":"7","m":3,"y":1.3,"lo":0.91,"hi":2.06},{"p":"b3","s":"7","m":4,"y":1.17,"lo":0.89,"hi":1.85},{"p":"b3","s":"7","m":5,"y":1.1,"lo":0.88,"hi":1.7},{"p":"b3","s":"7","m":6,"y":1.04,"lo":0.88,"hi":1.6},{"p":"b3","s":"7","m":7,"y":1.0,"lo":0.88,"hi":1.5},{"p":"b3","s":"7","m":9,"y":0.99,"lo":0.87,"hi":1.4},{"p":"b3","s":"7","m":11,"y":0.98,"lo":0.86,"hi":1.41},{"p":"b3","s":"7","m":13,"y":0.97,"lo":0.85,"hi":1.42},{"p":"b3","s":"7","m":15,"y":0.96,"lo":0.84,"hi":1.41},{"p":"b3","s":"7","m":17,"y":0.95,"lo":0.8,"hi":1.39},{"p":"b3","s":"7","m":19,"y":0.93,"lo":0.78,"hi":1.36},{"p":"b3","s":"7","m":21,"y":0.91,"lo":0.76,"hi":1.32},{"p":"b3","s":"7","m":23,"y":0.89,"lo":0.73,"hi":1.28},{"p":"b3","s":"7","m":25,"y":0.86,"lo":0.7,"hi":1.22},{"p":"b3","s":"7","m":27,"y":0.83,"lo":0.67,"hi":1.2},{"p":"b3","s":"7","m":29,"y":0.81,"lo":0.63,"hi":1.19},{"p":"b3","s":"7","m":31,"y":0.77,"lo":0.6,"hi":1.16},{"p":"b3","s":"7","m":33,"y":0.74,"lo":0.57,"hi":1.13},{"p":"b3","s":"7","m":35,"y":0.71,"lo":0.52,"hi":1.06},{"p":"b3","s":"7","m":36,"y":0.69,"lo":0.5,"hi":1.02},
{"p":"b3","s":"5","m":1,"y":0.65,"lo":0.44,"hi":0.94},{"p":"b3","s":"5","m":2,"y":0.65,"lo":0.43,"hi":0.95},{"p":"b3","s":"5","m":3,"y":0.65,"lo":0.44,"hi":0.98},{"p":"b3","s":"5","m":4,"y":0.65,"lo":0.4,"hi":1.0},{"p":"b3","s":"5","m":5,"y":0.65,"lo":0.41,"hi":0.99},{"p":"b3","s":"5","m":7,"y":0.65,"lo":0.43,"hi":0.98},{"p":"b3","s":"5","m":9,"y":0.65,"lo":0.43,"hi":0.97},{"p":"b3","s":"5","m":11,"y":0.655,"lo":0.43,"hi":0.97},{"p":"b3","s":"5","m":13,"y":0.66,"lo":0.44,"hi":0.97},{"p":"b3","s":"5","m":15,"y":0.67,"lo":0.43,"hi":0.96},{"p":"b3","s":"5","m":17,"y":0.66,"lo":0.44,"hi":0.96},{"p":"b3","s":"5","m":19,"y":0.66,"lo":0.43,"hi":0.96},{"p":"b3","s":"5","m":21,"y":0.66,"lo":0.42,"hi":0.96},{"p":"b3","s":"5","m":23,"y":0.66,"lo":0.42,"hi":0.96},{"p":"b3","s":"5","m":25,"y":0.66,"lo":0.43,"hi":0.96},{"p":"b3","s":"5","m":27,"y":0.66,"lo":0.43,"hi":0.96},{"p":"b3","s":"5","m":29,"y":0.66,"lo":0.43,"hi":0.96},{"p":"b3","s":"5","m":31,"y":0.66,"lo":0.42,"hi":0.96},{"p":"b3","s":"5","m":33,"y":0.655,"lo":0.42,"hi":0.96},{"p":"b3","s":"5","m":35,"y":0.65,"lo":0.42,"hi":0.96},{"p":"b3","s":"5","m":36,"y":0.65,"lo":0.42,"hi":0.96}
]},
"columns": 3,
"spacing": {"column": 40, "row": 57},
"resolve": {"scale": {"color": "independent"}, "legend": {"color": "independent"}},
"concat": [
{"title": {"text": "a"}, "width": 431, "height": 1033, "data": {"name": "d"}, "transform": [{"filter": "datum.p == 'a1'"}],
 "encoding": {"x": {"field": "m", "type": "quantitative", "scale": {"domain": [1, 36.2], "nice": false, "zero": false}, "axis": {"values": [3, 9, 15, 21, 27, 33], "title": "Date (Months)"}}, "color": {"field": "s", "type": "nominal", "scale": {"domain": ["10", "8", "7", "5"], "range": ["#dc2916", "#de5b26", "#6dc000", "#3b46a6"]}, "legend": null}},
 "layer": [
  {"mark": {"type": "area", "opacity": 0.45, "clip": true}, "encoding": {"y": {"field": "lo", "type": "quantitative", "stack": null, "scale": {"domain": [-1.8, 102], "nice": false, "zero": false}, "axis": {"title": "Resurgence Probability", "values": [0, 20, 40, 60, 80, 100], "labelExpr": "datum.value + '%'", "labelPadding": 25, "minExtent": 101, "maxExtent": 101, "titlePadding": 8.6}}, "y2": {"field": "hi"}}},
  {"mark": {"type": "line", "strokeWidth": 5, "clip": true}, "encoding": {"y": {"field": "y", "type": "quantitative"}}}
 ]},
{"width": 431, "height": 1033, "data": {"name": "d"}, "transform": [{"filter": "datum.p == 'a2'"}],
 "encoding": {"x": {"field": "m", "type": "quantitative", "scale": {"domain": [1, 36.2], "nice": false, "zero": false}, "axis": {"values": [3, 9, 15, 21, 27, 33], "title": "Date (Months)"}}, "color": {"field": "s", "type": "nominal", "scale": {"domain": ["10", "8", "7", "5"], "range": ["#dc2916", "#de5b26", "#6dc000", "#3b46a6"]}, "legend": {"orient": "top-right", "offset": 23, "title": null, "symbolType": "M-2.26,0H2.26", "symbolSize": 729, "symbolStrokeWidth": 5, "symbolOpacity": 1, "labelFont": "Liberation Sans", "labelFontSize": 27, "labelColor": "black", "labelOffset": 38, "rowPadding": 12, "padding": 0, "labelExpr": "'MDT = ' + datum.label"}}},
 "layer": [
  {"mark": {"type": "area", "opacity": 0.45, "clip": true}, "encoding": {"y": {"field": "lo", "type": "quantitative", "stack": null, "scale": {"type": "log", "domain": [6.1, 12100], "nice": false}, "axis": {"title": "Maximum Realtime Daily Infected Number", "values": [10, 100, 1000, 10000], "labelExpr": "datum.value < 50 ? '10' : datum.value < 500 ? '10\u00b2' : datum.value < 5000 ? '10\u00b3' : '10\u2074'", "labelFontSize": 33, "labelPadding": 28, "minExtent": 70, "maxExtent": 70, "titlePadding": 19.4}}, "y2": {"field": "hi"}}},
  {"mark": {"type": "line", "strokeWidth": 5, "clip": true}, "encoding": {"y": {"field": "y", "type": "quantitative"}}}
 ]},
{"width": 431, "height": 1033, "data": {"name": "d"}, "transform": [{"filter": "datum.p == 'a3'"}],
 "encoding": {"x": {"field": "m", "type": "quantitative", "scale": {"domain": [1, 36.2], "nice": false, "zero": false}, "axis": {"values": [3, 9, 15, 21, 27, 33], "title": "Date (Months)"}}, "color": {"field": "s", "type": "nominal", "scale": {"domain": ["10", "8", "7", "5"], "range": ["#dc2916", "#de5b26", "#6dc000", "#3b46a6"]}, "legend": null}},
 "layer": [
  {"mark": {"type": "area", "opacity": 0.45, "clip": true}, "encoding": {"y": {"field": "lo", "type": "quantitative", "stack": null, "scale": {"type": "log", "domain": [0.37, 1100], "nice": false}, "axis": {"title": "Total Number of Death", "values": [2.72, 10, 100, 1000], "labelExpr": "datum.value < 5 ? '1' : datum.value < 50 ? '10' : datum.value < 500 ? '10\u00b2' : '10\u00b3'", "labelFontSize": 33, "labelPadding": 28, "minExtent": 70, "maxExtent": 70, "titlePadding": 19.4}}, "y2": {"field": "hi"}}},
  {"mark": {"type": "line", "strokeWidth": 5, "clip": true}, "encoding": {"y": {"field": "y", "type": "quantitative"}}}
 ]},
{"title": {"text": "b"}, "width": 431, "height": 1033, "data": {"name": "d"}, "transform": [{"filter": "datum.p == 'b1'"}],
 "encoding": {"x": {"field": "m", "type": "quantitative", "scale": {"domain": [1, 36.2], "nice": false, "zero": false}, "axis": {"values": [3, 9, 15, 21, 27, 33], "title": "Date (Months)"}}, "color": {"field": "s", "type": "nominal", "scale": {"domain": ["10", "8", "7", "5"], "range": ["#dc2916", "#de5b26", "#6dc000", "#3b46a6"]}, "legend": null}},
 "layer": [
  {"mark": {"type": "area", "opacity": 0.45, "clip": true}, "encoding": {"y": {"field": "lo", "type": "quantitative", "stack": null, "scale": {"domain": [-1.8, 102], "nice": false, "zero": false}, "axis": {"title": "Resurgence Probability", "values": [0, 20, 40, 60, 80, 100], "labelExpr": "datum.value + '%'", "labelPadding": 25, "minExtent": 101, "maxExtent": 101, "titlePadding": 8.6}}, "y2": {"field": "hi"}}},
  {"mark": {"type": "line", "strokeWidth": 5, "clip": true}, "encoding": {"y": {"field": "y", "type": "quantitative"}}}
 ]},
{"width": 431, "height": 1033, "data": {"name": "d"}, "transform": [{"filter": "datum.p == 'b2'"}],
 "encoding": {"x": {"field": "m", "type": "quantitative", "scale": {"domain": [1, 36.2], "nice": false, "zero": false}, "axis": {"values": [3, 9, 15, 21, 27, 33], "title": "Date (Months)"}}, "color": {"field": "s", "type": "nominal", "scale": {"domain": ["10", "8", "7", "5"], "range": ["#dc2916", "#de5b26", "#6dc000", "#3b46a6"]}, "legend": {"orient": "top-right", "offset": 23, "title": null, "symbolType": "M-2.26,0H2.26", "symbolSize": 729, "symbolStrokeWidth": 5, "symbolOpacity": 1, "labelFont": "Liberation Sans", "labelFontSize": 27, "labelColor": "black", "labelOffset": 38, "rowPadding": 12, "padding": 0, "labelExpr": "'MDT = ' + datum.label"}}},
 "layer": [
  {"mark": {"type": "area", "opacity": 0.45, "clip": true}, "encoding": {"y": {"field": "lo", "type": "quantitative", "stack": null, "scale": {"type": "log", "domain": [6.1, 12100], "nice": false}, "axis": {"title": "Maximum Realtime Daily Infected Number", "values": [10, 100, 1000, 10000], "labelExpr": "datum.value < 50 ? '10' : datum.value < 500 ? '10\u00b2' : datum.value < 5000 ? '10\u00b3' : '10\u2074'", "labelFontSize": 33, "labelPadding": 28, "minExtent": 70, "maxExtent": 70, "titlePadding": 19.4}}, "y2": {"field": "hi"}}},
  {"mark": {"type": "line", "strokeWidth": 5, "clip": true}, "encoding": {"y": {"field": "y", "type": "quantitative"}}}
 ]},
{"width": 431, "height": 1033, "data": {"name": "d"}, "transform": [{"filter": "datum.p == 'b3'"}],
 "encoding": {"x": {"field": "m", "type": "quantitative", "scale": {"domain": [1, 36.2], "nice": false, "zero": false}, "axis": {"values": [3, 9, 15, 21, 27, 33], "title": "Date (Months)"}}, "color": {"field": "s", "type": "nominal", "scale": {"domain": ["10", "8", "7", "5"], "range": ["#dc2916", "#de5b26", "#6dc000", "#3b46a6"]}, "legend": null}},
 "layer": [
  {"mark": {"type": "area", "opacity": 0.45, "clip": true}, "encoding": {"y": {"field": "lo", "type": "quantitative", "stack": null, "scale": {"type": "log", "domain": [0.37, 1100], "nice": false}, "axis": {"title": "Total Number of Death", "values": [2.72, 10, 100, 1000], "labelExpr": "datum.value < 5 ? '1' : datum.value < 50 ? '10' : datum.value < 500 ? '10\u00b2' : '10\u00b3'", "labelFontSize": 33, "labelPadding": 28, "minExtent": 70, "maxExtent": 70, "titlePadding": 19.4}}, "y2": {"field": "hi"}}},
  {"mark": {"type": "line", "strokeWidth": 5, "clip": true}, "encoding": {"y": {"field": "y", "type": "quantitative"}}}
 ]}
]
}
